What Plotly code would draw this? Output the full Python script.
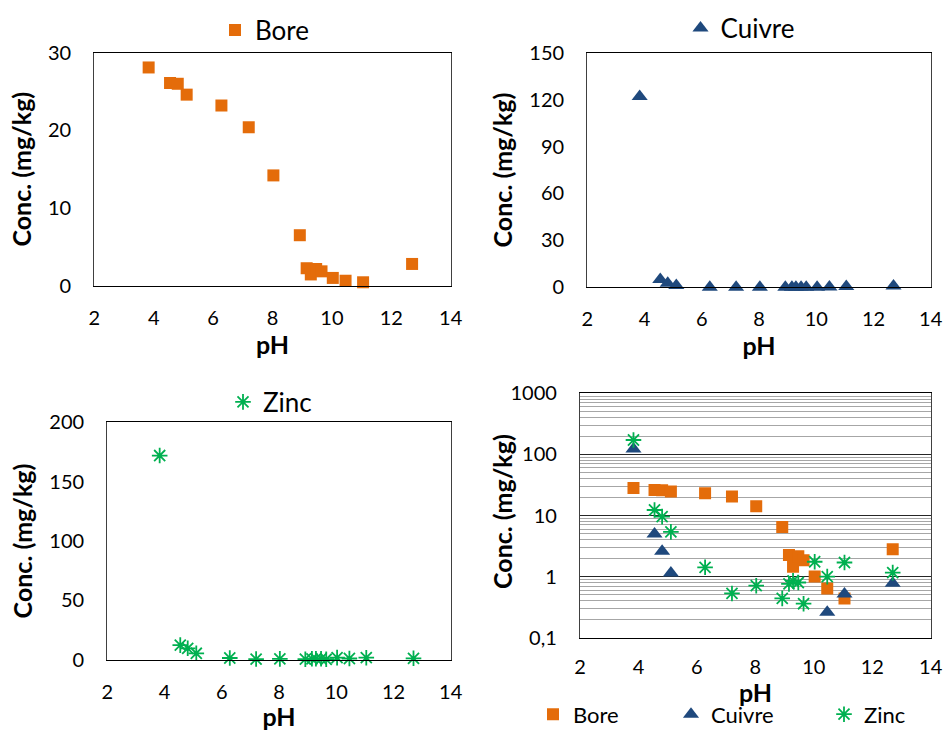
import plotly.graph_objects as go

# ---------------- data ----------------
ph = [3.83, 4.55, 4.81, 5.11, 6.28, 7.20, 8.03, 8.92, 9.15, 9.29, 9.47, 9.65, 10.03, 10.46, 11.05, 12.70]
bore = [28.1, 26.1, 26.0, 24.6, 23.2, 20.4, 14.2, 6.5, 2.25, 1.45, 2.15, 1.85, 1.0, 0.64, 0.44, 2.8]
cuivre = [122, 5.0, 2.6, 1.15, 0, 0, 0, 0, 0, 0, 0, 0, 0, 0.26, 0.52, 0.78]
zinc = [172, 12.3, 9.6, 5.4, 1.42, 0.53, 0.71, 0.44, 0.76, 0.85, 0.80, 0.36, 1.75, 1.0, 1.7, 1.16]

series_names = ["Bore", "Cuivre", "Zinc"]
x_ticks = [2, 4, 6, 8, 10, 12, 14]
bore_ticks = [0, 10, 20, 30]
cuivre_ticks = [0, 30, 60, 90, 120, 150]
zinc_ticks = [0, 50, 100, 150, 200]
log_tickvals = [0.1, 1, 10, 100, 1000]
log_ticktext = ["0,1", "1", "10", "100", "1000"]
x_title = "pH"
y_title = "Conc. (mg/kg)"

# ---------------- style ----------------
W, H = 944, 731
FONT = "Lato"
C_BORE = "#E46C0A"
C_CUIVRE = "#1F497D"
C_ZINC = "#00B050"

def px_x(a, b):
    return [a / W, b / W]

def px_y(top, bottom):
    return [1 - bottom / H, 1 - top / H]

marker_bore = dict(symbol="square", size=12, color=C_BORE)
marker_cuivre = dict(symbol="triangle-up", size=14, color=C_CUIVRE)
marker_zinc = dict(symbol="asterisk-open", size=13, color=C_ZINC, line=dict(color=C_ZINC, width=1.8))

fig = go.Figure()

# panel 1 - Bore
fig.add_trace(go.Scatter(x=ph, y=bore, mode="markers", name=series_names[0], marker=marker_bore,
                         xaxis="x", yaxis="y", legend="legend", cliponaxis=False))
# panel 2 - Cuivre
fig.add_trace(go.Scatter(x=ph, y=cuivre, mode="markers", name=series_names[1], marker=marker_cuivre,
                         xaxis="x2", yaxis="y2", legend="legend2", cliponaxis=False))
# panel 3 - Zinc
fig.add_trace(go.Scatter(x=ph, y=zinc, mode="markers", name=series_names[2], marker=marker_zinc,
                         xaxis="x3", yaxis="y3", legend="legend3", cliponaxis=False))
# panel 4 - all, log
fig.add_trace(go.Scatter(x=ph, y=bore, mode="markers", name=series_names[0], marker=marker_bore,
                         xaxis="x4", yaxis="y4", legend="legend4", legendwidth=93))
fig.add_trace(go.Scatter(x=ph, y=cuivre, mode="markers", name=series_names[1], marker=marker_cuivre,
                         xaxis="x4", yaxis="y4", legend="legend4", legendwidth=108))
fig.add_trace(go.Scatter(x=ph, y=zinc, mode="markers", name=series_names[2], marker=marker_zinc,
                         xaxis="x4", yaxis="y4", legend="legend4", legendwidth=50))

tickfont = dict(family=FONT, size=20, color="#000000")
titlefont = dict(family=FONT, size=25, color="#000000", weight="bold")

def xaxis(domain, anchor, title=True, standoff=14):
    d = dict(domain=domain, anchor=anchor, range=[2, 14], tickmode="array", tickvals=x_ticks,
             showgrid=False, zeroline=False, showline=True, linecolor="#000000", linewidth=1.3,
             mirror=True, ticks="", ticklabelstandoff=standoff, tickfont=tickfont, automargin=False,
             ticklabeloverflow="allow")
    if title:
        d["title"] = dict(text=x_title, font=titlefont, standoff=4)
    return d

def yaxis(domain, anchor, ticks, rng, title=True):
    d = dict(domain=domain, anchor=anchor, range=rng, tickmode="array", tickvals=ticks,
             showgrid=False, zeroline=False, showline=True, linecolor="#404040", linewidth=1.3,
             mirror=True, ticks="", ticklabelstandoff=18, tickfont=tickfont, automargin=False)
    if title:
        d["title"] = dict(text=y_title, font=titlefont, standoff=9)
    return d

d1x, d1y = px_x(94.3, 450.7), px_y(52.7, 285.7)
d2x, d2y = px_x(587.3, 930.7), px_y(52.7, 287.3)
d3x, d3y = px_x(107.3, 450.7), px_y(422.3, 659.7)
d4x, d4y = px_x(580.0, 930.7), px_y(393.3, 637.7)

y4 = yaxis(d4y, "x4", log_tickvals, [-1, 3], title=False)
y4.update(type="log", ticktext=log_ticktext, showgrid=True, gridcolor="#262626", gridwidth=1,
          minor=dict(dtick="D1", showgrid=True, gridcolor="#A6A6A6", gridwidth=1, ticks=""))

legfont_top = dict(family=FONT, size=26, color="#000000")
legfont_bot = dict(family=FONT, size=22, color="#000000")

fig.update_layout(
    width=W, height=H,
    margin=dict(l=0, r=0, t=0, b=0, autoexpand=False),
    paper_bgcolor="#FFFFFF", plot_bgcolor="#FFFFFF",
    font=dict(family=FONT, color="#000000"),
    xaxis=xaxis(d1x, "y"), yaxis=yaxis(d1y, "x", bore_ticks, [0, 30]),
    xaxis2=xaxis(d2x, "y2"), yaxis2=yaxis(d2y, "x2", cuivre_ticks, [0, 150]),
    xaxis3=xaxis(d3x, "y3"), yaxis3=yaxis(d3y, "x3", zinc_ticks, [0, 200]),
    xaxis4=xaxis(d4x, "y4", title=False, standoff=11), yaxis4=y4,
    legend=dict(x=265 / W, y=1 - 30 / H, xanchor="center", yanchor="middle", orientation="h",
                font=legfont_top, bgcolor="rgba(0,0,0,0)", itemwidth=30),
    legend2=dict(x=740 / W, y=1 - 28 / H, xanchor="center", yanchor="middle", orientation="h",
                 font=legfont_top, bgcolor="rgba(0,0,0,0)", itemwidth=30),
    legend3=dict(x=270 / W, y=1 - 402 / H, xanchor="center", yanchor="middle", orientation="h",
                 font=legfont_top, bgcolor="rgba(0,0,0,0)", itemwidth=30),
    legend4=dict(x=533 / W, y=-0.006, xanchor="left", yanchor="bottom", orientation="h",
                 font=legfont_bot, bgcolor="rgba(0,0,0,0)", itemwidth=30),
    showlegend=True,
    annotations=[
        dict(text=y_title, textangle=-90, x=502 / W, y=1 - 512 / H, xref="paper", yref="paper",
             xanchor="center", yanchor="middle", showarrow=False, font=titlefont),
        dict(text=x_title, x=(580.0 + 930.7) / 2 / W, y=1 - 692 / H, xref="paper", yref="paper",
             xanchor="center", yanchor="middle", showarrow=False, font=titlefont),
    ],
)

fig.write_html("out.html", config={"displayModeBar": False},
               post_script="document.body.style.margin='0px';")
